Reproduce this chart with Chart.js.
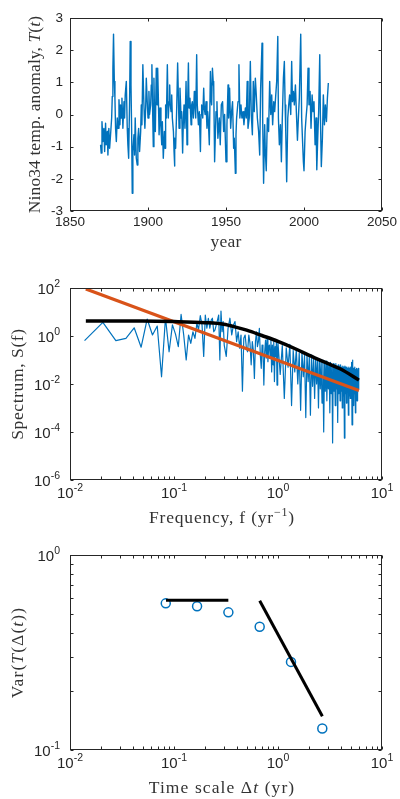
<!DOCTYPE html>
<html>
<head>
<meta charset="utf-8">
<script src="https://cdn.jsdelivr.net/npm/chart.js@4.4.0/dist/chart.umd.min.js"></script>
<style>
body{margin:0;background:#fff;width:400px;height:799px;position:relative;overflow:hidden}
canvas{position:absolute;left:0}
</style>
</head>
<body>
<canvas id="c1" width="400" height="262" style="top:0px"></canvas>
<canvas id="c2" width="400" height="266" style="top:262px"></canvas>
<canvas id="c3" width="400" height="271" style="top:528px"></canvas>
<script>
// panel 1: Nino34 anomaly
const years = [1869.6,1870.0,1870.5,1871.1,1871.7,1872.2,1872.8,1873.2,1873.9,1874.3,1874.9,1875.4,1876.0,1876.7,1877.1,1877.5,1877.9,1878.4,1878.8,1879.2,1879.7,
1880.3,1880.9,1881.4,1882.0,1882.4,1882.9,1883.3,1883.9,1884.6,1885.0,1885.4,1886.1,1886.7,1887.1,1887.6,1888.2,1888.6,1889.1,1889.5,1889.9,
1890.3,1891.0,1891.4,1891.8,1892.5,1893.1,1893.5,1894.0,1894.6,1895.3,1895.7,1896.1,1896.7,1897.2,1897.6,1898.0,1898.5,1898.9,1899.5,
1900.0,1900.6,1901.0,1901.7,1902.1,1902.5,1902.9,1903.4,1903.8,1904.2,1904.7,1905.3,1905.8,1906.2,1906.6,1907.1,1907.7,1908.3,1908.8,1909.2,1909.8,
1910.5,1910.9,1911.3,1911.8,1912.4,1913.0,1913.5,1913.9,1914.3,1914.8,1915.2,1915.6,1916.3,1916.7,1916.9,1917.3,1917.7,1918.4,1919.0,1919.5,1919.9,
1920.5,1921.2,1921.6,1922.2,1922.7,1923.1,1923.7,1924.4,1925.0,1925.4,1925.9,1926.3,1926.9,1927.6,1928.0,1928.4,1929.1,1929.7,
1930.1,1930.6,1931.2,1931.6,1932.3,1932.9,1933.6,1934.0,1934.4,1935.1,1935.7,1936.1,1936.6,1937.2,1937.8,1938.3,1938.7,1939.3,
1940.0,1940.4,1940.8,1941.3,1941.9,1942.1,1942.7,1943.6,1944.2,1944.8,1945.7,1946.3,1947.0,1947.8,1948.5,1949.1,
1950.0,1950.6,1951.3,1951.7,1952.3,1953.0,1953.6,1954.2,1954.9,1955.3,1956.0,1956.4,1956.8,1957.7,1958.3,1958.9,1959.6,
1960.2,1960.9,1961.5,1962.4,1963.0,1963.6,1964.1,1964.9,1965.6,1966.2,1966.9,1967.5,1968.1,1968.8,1969.4,
1970.1,1970.9,1971.6,1972.2,1973.1,1973.5,1974.1,1974.8,1975.2,1975.8,1976.5,1977.3,1978.0,1978.7,1979.3,1979.9,
1980.6,1981.2,1981.9,1982.5,1983.2,1983.6,1984.2,1984.9,1985.5,1986.1,1986.8,1987.4,1987.9,1988.3,1988.9,1989.6,
1990.2,1990.8,1991.5,1992.1,1992.6,1993.2,1993.8,1994.5,1995.1,1995.8,1996.4,1997.0,1997.9,1998.5,1999.0,1999.6,
2000.0,2000.7,2001.3,2002.0,2002.6,2003.2,2003.9,2004.5,2005.2,2005.8,2006.4,2007.1,2007.7,2008.2,2008.8,2009.4,
2010.1,2010.5,2011.1,2011.8,2012.4,2013.1,2013.7,2014.4,2015.0,2015.6];
const anomaly = [-0.94,-1.2,-0.22,-0.84,-0.43,-1.15,-0.27,-0.94,-0.53,-1.26,-0.43,-1.05,-0.63,-0.11,0.56,1.44,2.5,1.03,0.51,-0.43,-0.84,
-0.11,-0.43,0.46,-0.32,0.3,-0.11,0.51,-0.43,0.4,-0.11,0.61,1.03,-0.43,-0.94,-1.36,0.4,2.27,0.92,-0.43,-2.45,
-1.15,-0.63,-1.26,-0.11,-1.36,-1.57,-0.74,-0.43,-1.15,-0.53,0.3,-0.32,1.55,0.61,0,-0.43,0.2,1.13,0.4,
-0.11,0.72,0,0.3,0.92,1.55,0.3,-1.0,1.13,0,-0.53,1.44,0.3,1.44,0.61,-0.63,0.2,-0.43,-0.94,-0.22,-1.36,
-0.53,-1.05,0.3,-0.11,1.55,-0.11,0.4,0.92,0.3,0.09,0.61,-0.11,-0.53,-1.15,-1.6,-0.74,-1.05,0.2,1.6,0.51,-0.43,
0.82,-0.11,0.09,-1.2,-0.11,0.3,-0.43,1.03,-0.94,0.3,1.6,0.2,0.51,-0.32,0.3,0.4,-0.11,0.72,
0.3,-0.11,1.86,0.3,-0.32,0.09,-1.15,0,0.3,-0.11,0.82,0.2,0,0.4,-0.43,0.09,-0.22,-0.94,
1.34,0.51,0.3,1.44,0.92,1.03,-1.47,0.09,0.4,-0.74,-0.11,-0.94,0.3,0.4,-0.53,0,
-1.47,-0.32,0.92,-0.11,0.82,-0.43,0.09,0.4,-1.05,-0.74,-1.83,-0.63,-0.11,0.4,1.55,-0.11,0.3,
-0.11,0.09,-0.32,0.2,-0.11,1.03,-0.43,-0.11,1.65,0,-0.63,1.03,0.09,1.13,0.61,
-0.11,-0.53,-1.26,0.82,2.22,-0.11,-2.14,-0.32,-1.15,-1.75,-0.11,-0.53,1.03,0,0.61,-0.32,
0.4,0.09,0.61,1.03,2.43,-0.11,-0.94,-0.32,-1.47,-0.11,1.13,1.65,0.3,-0.53,-2.09,-0.11,
0.3,0.61,0,1.65,0.4,0.72,0.3,0.92,0.09,-0.8,-0.11,0.51,2.5,-0.11,-0.74,-1.47,
-1.75,-0.53,-0.11,0.3,1.44,0.3,0.72,-0.43,0.61,0.09,0.4,-0.94,-0.11,-1.72,-0.74,0.09,
1.86,0,-1.62,-0.74,0.61,-0.32,0.3,-0.22,0.51,0.98];

// panel 2: spectrum (blue), power-law fit (orange), red-noise fit (black)
const specFreq = [0.0138,0.0207,0.0276,0.0345,0.0414,0.0483,0.0552,0.0621,0.069,0.0759,0.0828,0.0897,0.0966,0.1034,
0.110,0.117,0.124,0.131,0.138,0.145,0.152,0.159,0.166,0.172,0.179,0.186,0.193,0.200,0.207,0.214,0.221,0.228,0.234,0.241,0.248,0.255,0.262,0.269,0.276,0.283,0.290,0.297,
0.304,0.318,0.331,0.345,0.359,0.373,0.386,0.400,0.414,0.428,0.441,0.455,0.469,0.483,0.497,0.510,0.524,0.538,0.552,0.566,0.579,0.593,0.607,0.621,0.634,0.648,0.662,0.676,0.690,0.703,0.717,0.731,0.745,0.759,0.772,0.786,0.800,0.814,0.828,0.841,0.855,0.869,0.883,0.897,0.910,0.924,0.938,0.952,0.966,0.979,0.993,
1.00,1.05,1.10,1.15,1.20,1.25,1.30,1.35,1.40,1.45,1.50,1.55,1.60,1.65,1.70,1.75,1.80,1.85,1.90,1.95,
2.00,2.05,2.10,2.15,2.20,2.25,2.30,2.35,2.40,2.45,2.50,2.55,2.60,2.65,2.70,2.75,2.80,2.85,2.90,2.95,
3.00,3.05,3.10,3.15,3.20,3.25,3.30,3.35,3.40,3.45,3.50,3.55,3.60,3.65,3.70,3.75,3.80,3.85,3.90,3.95,
4.00,4.05,4.10,4.15,4.20,4.25,4.30,4.35,4.40,4.45,4.50,4.55,4.60,4.65,4.70,4.75,4.80,4.85,4.90,4.95,
5.00,5.05,5.10,5.15,5.20,5.25,5.30,5.35,5.40,5.45,5.50,5.55,5.60,5.65,5.70,5.75,5.80,5.85,5.90,5.95,6.00];
const specPower = [0.64,3.7,0.64,0.8,2.2,0.34,5.1,1.1,2.6,0.02,5.8,0.22,2.9,1.2,
0.36,7.9,1.1,0.1,1.1,0.49,1.5,0.8,3.4,1.8,7.0,2.9,0.14,7.5,2.1,5.5,2.1,4.6,5.5,1.5,1.8,2.9,4.6,7.5,0.1,11,1.5,4.0,
0.42,0.14,2.1,5.5,1.1,2.9,4.0,0.58,1.5,0.31,1.1,0.005,0.8,1.1,0.31,0.22,1.1,0.49,0.063,0.58,0.26,0.017,0.58,1.5,0.36,0.58,2.1,0.16,0.045,0.42,0.26,0.009,0.22,0.68,0.12,0.8,0.085,0.36,0.42,0.12,0.68,0.032,0.42,0.063,0.58,0.0126,0.36,0.14,0.58,0.009,0.31,
0.50,0.025,0.40,0.0025,0.32,0.05,0.45,0.00126,0.25,0.032,0.28,0.01,0.2,0.0008,0.22,0.02,0.16,0.0004,0.18,0.0126,
0.14,0.0005,0.16,0.008,0.11,0.0025,0.126,0.01,0.1,0.001,0.11,0.0063,0.089,0.0016,0.1,0.0001,0.079,0.005,0.089,0.002,
0.079,0.0063,0.071,0.00063,0.079,0.004,0.063,0.000035,0.071,0.005,0.063,0.00126,0.071,0.0063,0.056,0.00025,0.063,0.004,0.056,0.002,
0.063,0.005,0.05,0.001,0.056,0.0032,0.05,0.000056,0.056,0.004,0.05,0.0016,0.05,0.005,0.045,0.0005,0.05,0.0032,0.045,0.0025,
0.05,0.004,0.079,0.0002,0.1,0.0032,0.045,0.00126,0.04,0.004,0.05,0.00063,0.04,0.0032,0.045,0.002,0.04,0.0035,0.045,0.0063,0.032];
const powFreq = [0.0142, 6.0];
const powPower = [91, 0.0054];
const redFreq = [0.0142,0.03,0.05,0.1,0.2,0.3,0.4,0.5,0.7,1,1.5,2,3,4,6];
const redPower = [4.2,4.2,4.2,4.0,3.6,3.1,2.3,1.75,1.05,0.6,0.28,0.155,0.072,0.042,0.0145];

// panel 3: variance vs time scale, with two slope lines
const scaleT = [1/12, 2/12, 4/12, 8/12, 16/12, 32/12];
const varT = [0.565, 0.546, 0.508, 0.429, 0.283, 0.129];
const flatT = [0.0838, 0.333];
const flatV = [0.586, 0.586];
const steepT = [0.667, 2.67];
const steepV = [0.583, 0.149];

const ink = '#262626';
const blue = '#0072BD';
const orange = '#D95319';
const sans = "'Liberation Sans', Arial, sans-serif";
const serif = "'Liberation Serif', 'Times New Roman', serif";
const tickFont = {family: sans, size: 13.5};

function pts(xs, ys){ return xs.map((x,i) => ({x: x, y: ys[i]})); }
function decades(lo, hi, step){ let out = []; for(let e = lo; e <= hi; e += step) out.push(Math.pow(10, e)); return out; }
function minors(lo, hi){
  let out = [];
  for(let e = lo; e < hi; e++) for(let m = 1; m < 10; m++) out.push(m * Math.pow(10, e));
  out.push(Math.pow(10, hi));
  return out;
}

// draws a list of text pieces; i = italic, s = superscript
function pieceFont(s, size){ return (s.i ? 'italic ' : '') + (s.s ? Math.round(size * 0.7) : size) + 'px ' + serif; }
function richWidth(ctx, segs, size){
  let w = 0;
  segs.forEach(s => { ctx.font = pieceFont(s, size); w += ctx.measureText(s.t).width; });
  return w;
}
function drawRich(ctx, segs, x, y, size){
  segs.forEach(s => {
    ctx.font = pieceFont(s, size);
    ctx.fillText(s.t, x, s.s ? y - size * 0.4 : y);
    x += ctx.measureText(s.t).width;
  });
}

// 10^n label with a raised exponent
function drawPow(ctx, v, x, y, align){
  const b = '10', e = String(Math.round(Math.log10(v)));
  ctx.font = '15px ' + sans;
  const wb = ctx.measureText(b).width;
  ctx.font = '10.5px ' + sans;
  const we = ctx.measureText(e).width;
  const x0 = align === 'center' ? x - (wb + we) / 2 : x - wb - we;
  ctx.font = '15px ' + sans;
  ctx.fillText(b, x0, y);
  ctx.font = '10.5px ' + sans;
  ctx.fillText(e, x0 + wb, y - 7.5);
}

function spacing(ctx, px){ if ('letterSpacing' in ctx) ctx.letterSpacing = px + 'px'; }

// box with inward ticks, log tick labels and axis titles (matlab look)
function frame(o){
  return {
    id: 'frame',
    afterDraw(chart){
      const {ctx, chartArea: a} = chart;
      const xs = chart.scales.x, ys = chart.scales.y;
      const L = Math.round(a.left) + 0.5, R = Math.round(a.right) - 0.5;
      const T = Math.round(a.top) + 0.5, B = Math.round(a.bottom) - 0.5;
      const len = 3;
      ctx.save();
      ctx.strokeStyle = ink;
      ctx.lineWidth = 1;
      ctx.strokeRect(L, T, R - L, B - T);
      ctx.beginPath();
      (o.xTicks || xs.ticks.map(t => t.value)).forEach(v => {
        const p = Math.round(xs.getPixelForValue(v)) + 0.5;
        ctx.moveTo(p, B); ctx.lineTo(p, B - len);
        ctx.moveTo(p, T); ctx.lineTo(p, T + len);
      });
      (o.yTicks || ys.ticks.map(t => t.value)).forEach(v => {
        const p = Math.round(ys.getPixelForValue(v)) + 0.5;
        ctx.moveTo(L, p); ctx.lineTo(L + len, p);
        ctx.moveTo(R, p); ctx.lineTo(R - len, p);
      });
      ctx.stroke();

      ctx.fillStyle = ink;
      ctx.textBaseline = 'alphabetic';
      ctx.textAlign = 'left';
      if (o.xPow) o.xPow.forEach(v => drawPow(ctx, v, xs.getPixelForValue(v), a.bottom + 18, 'center'));
      if (o.yPow) o.yPow.forEach(v => drawPow(ctx, v, a.left - 10, ys.getPixelForValue(v) + 6, 'right'));

      ctx.fillStyle = '#333';
      const size = 17.5;
      spacing(ctx, o.xSpace);
      const cx = (a.left + a.right) / 2 + o.xTitleShift;
      const wx = richWidth(ctx, o.xTitle, size);
      drawRich(ctx, o.xTitle, cx - wx / 2, a.bottom + o.xTitleDrop, size);
      spacing(ctx, o.ySpace);
      const cy = (a.top + a.bottom) / 2;
      const wy = richWidth(ctx, o.yTitle, size);
      ctx.translate(a.left - o.yTitleGap, cy);
      ctx.rotate(-Math.PI / 2);
      drawRich(ctx, o.yTitle, -wy / 2, 0, size);
      ctx.restore();
    }
  };
}

function axis(cfg){
  const a = {
    type: cfg.type,
    min: cfg.min,
    max: cfg.max,
    grid: {display: false, drawTicks: false},
    border: {display: false},
    ticks: {display: !cfg.major, font: tickFont, color: ink, padding: cfg.pad, autoSkip: false, maxRotation: 0},
    title: {display: false},
    afterFit: s => {
      if (cfg.w) s.width = cfg.w;
      if (cfg.h) s.height = cfg.h;
      s.paddingLeft = 0; s.paddingRight = 0; s.paddingTop = 0; s.paddingBottom = 0;
    }
  };
  if (cfg.step) { a.ticks.stepSize = cfg.step; a.ticks.callback = v => String(v); }
  if (cfg.major) a.afterBuildTicks = s => { s.ticks = cfg.major.map(v => ({value: v})); };
  return a;
}

const common = {
  responsive: false,
  animation: false,
  events: [],
  plugins: {legend: {display: false}, tooltip: {enabled: false}}
};

new Chart(document.getElementById('c1'), {
  type: 'line',
  data: {datasets: [{data: pts(years, anomaly), borderColor: blue, borderWidth: 1.4, pointRadius: 0, borderJoinStyle: 'round'}]},
  options: Object.assign({}, common, {
    layout: {padding: {top: 18, right: 18, left: 0, bottom: 0}},
    scales: {
      x: axis({type: 'linear', min: 1850, max: 2050, step: 50, pad: 3, h: 51}),
      y: axis({type: 'linear', min: -3, max: 3, step: 1, pad: 7, w: 70})
    }
  }),
  plugins: [frame({
    xTitle: [{t: 'year'}], xTitleDrop: 36, xTitleShift: 0, xSpace: 0.2,
    yTitle: [{t: 'Nino34 temp. anomaly, '}, {t: 'T', i: true}, {t: '('}, {t: 't', i: true}, {t: ')'}], yTitleGap: 30, ySpace: 0.1
  })]
});

new Chart(document.getElementById('c2'), {
  type: 'line',
  data: {datasets: [
    {data: pts(redFreq, redPower), borderColor: '#000', borderWidth: 3.5, pointRadius: 0, cubicInterpolationMode: 'monotone'},
    {data: pts(powFreq, powPower), borderColor: orange, borderWidth: 3.2, pointRadius: 0},
    {data: pts(specFreq, specPower), borderColor: blue, borderWidth: 1.2, pointRadius: 0, borderJoinStyle: 'round'}
  ]},
  options: Object.assign({}, common, {
    layout: {padding: {top: 26, right: 18, left: 0, bottom: 0}},
    scales: {
      x: axis({type: 'logarithmic', min: 0.01, max: 10, major: decades(-2, 1, 1), h: 48}),
      y: axis({type: 'logarithmic', min: 1e-6, max: 100, major: decades(-6, 2, 2), w: 70})
    }
  }),
  plugins: [frame({
    xTicks: minors(-2, 1), yTicks: decades(-6, 2, 2),
    xPow: decades(-2, 1, 1), yPow: decades(-6, 2, 2),
    xTitle: [{t: 'Frequency, f (yr'}, {t: '−1', s: true}, {t: ')'}], xTitleDrop: 43, xTitleShift: -4, xSpace: 0.8,
    yTitle: [{t: 'Spectrum, S(f)'}], yTitleGap: 47, ySpace: 0.6
  })]
});

new Chart(document.getElementById('c3'), {
  type: 'line',
  data: {datasets: [
    {data: pts(flatT, flatV), borderColor: '#000', borderWidth: 3, pointRadius: 0},
    {data: pts(steepT, steepV), borderColor: '#000', borderWidth: 3, pointRadius: 0},
    {data: pts(scaleT, varT), showLine: false, pointRadius: 4.5, pointBorderWidth: 1.5, pointBorderColor: blue, pointBackgroundColor: 'rgba(0,0,0,0)'}
  ]},
  options: Object.assign({}, common, {
    layout: {padding: {top: 27, right: 18, left: 0, bottom: 0}},
    scales: {
      x: axis({type: 'logarithmic', min: 0.01, max: 10, major: decades(-2, 1, 1), h: 49}),
      y: axis({type: 'logarithmic', min: 0.1, max: 1, major: decades(-1, 0, 1), w: 70})
    }
  }),
  plugins: [frame({
    xTicks: minors(-2, 1), yTicks: minors(-1, 0),
    xPow: decades(-2, 1, 1), yPow: decades(-1, 0, 1),
    xTitle: [{t: 'Time scale Δ'}, {t: 't', i: true}, {t: ' (yr)'}], xTitleDrop: 43, xTitleShift: -4, xSpace: 1.1,
    yTitle: [{t: 'Var('}, {t: 'T', i: true}, {t: '(Δ('}, {t: 't', i: true}, {t: '))'}], yTitleGap: 47, ySpace: 1.1
  })]
});
</script>
</body>
</html>
